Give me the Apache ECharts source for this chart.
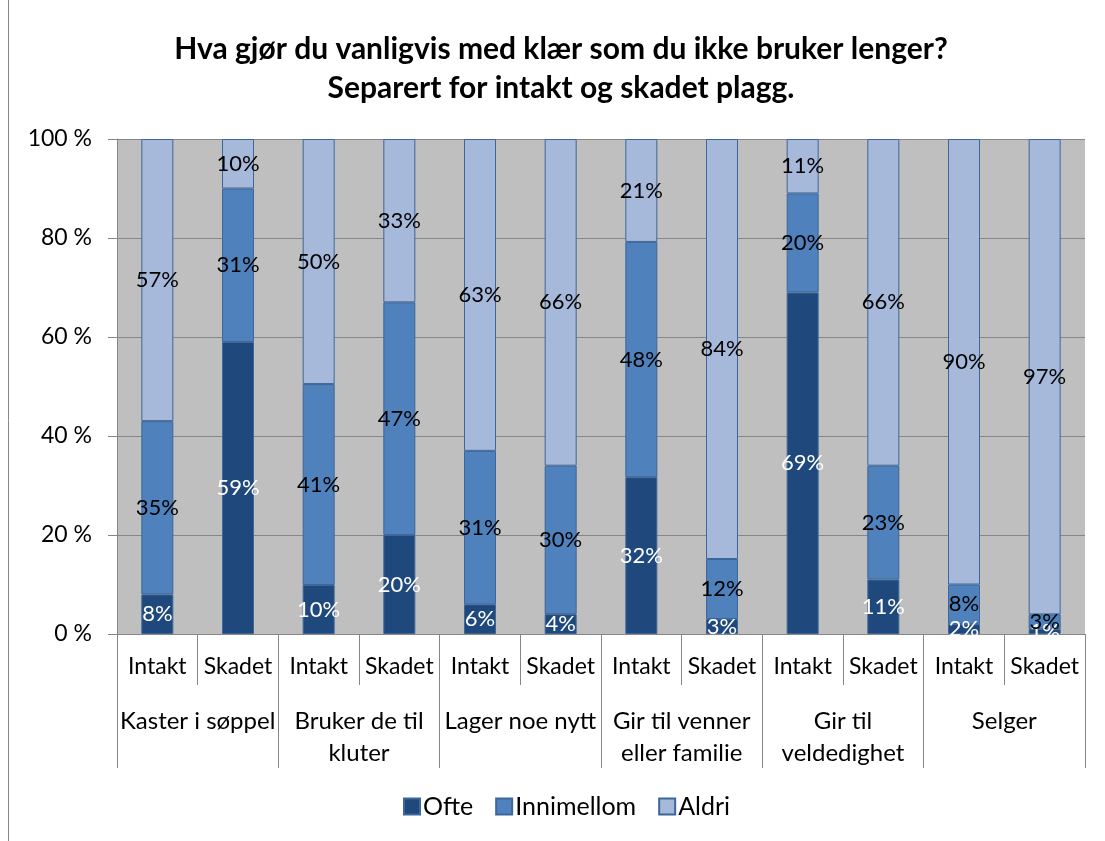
<!DOCTYPE html>
<html>
<head>
<meta charset="utf-8">
<script src="https://cdn.jsdelivr.net/npm/echarts@6/dist/echarts.min.js"></script>
<style>
  html, body { margin: 0; padding: 0; background: #ffffff; }
  #chart { width: 1105px; height: 841px; }
</style>
</head>
<body>
<div id="chart"></div>
<script>
// Survey answers, percent per bar (Intakt / Skadet for each action)
const groups = ['Kaster i søppel', 'Bruker de til\nkluter', 'Lager noe nytt', 'Gir til venner\neller familie', 'Gir til\nveldedighet', 'Selger'];
const conditions = ['Intakt', 'Skadet', 'Intakt', 'Skadet', 'Intakt', 'Skadet', 'Intakt', 'Skadet', 'Intakt', 'Skadet', 'Intakt', 'Skadet'];
const seriesNames = ['Ofte', 'Innimellom', 'Aldri'];
const ofte       = [8, 59, 10, 20, 6, 4, 32, 3, 69, 11, 2, 1];
const innimellom = [35, 31, 41, 47, 31, 30, 48, 12, 20, 23, 8, 3];
const aldri      = [57, 10, 50, 33, 63, 66, 21, 84, 11, 66, 90, 97];
const yTicks = [0, 20, 40, 60, 80, 100];

const raw = [ofte, innimellom, aldri];
const colors = ['#1F497D', '#4F81BD', '#A7B9DA'];
const labelColors = ['#ffffff', '#000000', '#000000'];
const FONT = 'Lato, "Liberation Sans", Arial, sans-serif';

// 100 % stacking: every bar is scaled to its own total
const totals = conditions.map((_, i) => ofte[i] + innimellom[i] + aldri[i]);

const series = raw.map((vals, s) => ({
  name: seriesNames[s],
  type: 'bar',
  stack: 'total',
  xAxisIndex: 0,
  barWidth: 32,
  itemStyle: { color: colors[s], borderColor: '#3D6699', borderWidth: 1 },
  label: {
    show: true,
    position: 'inside',
    color: labelColors[s],
    fontFamily: FONT,
    fontSize: 22,
    formatter: p => vals[p.dataIndex] + '%'
  },
  data: vals.map((v, i) => v / totals[i] * 100)
}));

const chart = echarts.init(document.getElementById('chart'), null, { renderer: 'canvas' });
chart.setOption({
  animation: false,
  backgroundColor: '#ffffff',
  title: {
    text: 'Hva gjør du vanligvis med klær som du ikke bruker lenger?\nSeparert for intakt og skadet plagg.',
    left: 561,
    textAlign: 'center',
    top: 30,
    padding: 0,
    textStyle: { fontFamily: FONT, fontSize: 30, fontWeight: 'bold', color: '#000000', lineHeight: 39 }
  },
  legend: {
    top: 789,
    left: 398,
    itemWidth: 16,
    itemHeight: 16,
    itemGap: 22,
    icon: 'rect',
    textStyle: { fontFamily: FONT, fontSize: 25, color: '#000000', padding: [0, 0, 0, -2] },
    data: seriesNames
  },
  grid: { left: 117, right: 20, top: 139, bottom: 207, backgroundColor: '#BFBFBF', show: true, borderWidth: 0 },
  xAxis: [
    {
      type: 'category',
      data: conditions,
      position: 'bottom',
      axisLine: { show: true, lineStyle: { color: '#868686' } },
      axisTick: { show: true, length: 51, lineStyle: { color: '#868686' } },
      axisLabel: { interval: 0, margin: 21, fontFamily: FONT, fontSize: 23, color: '#000000' }
    },
    {
      type: 'category',
      data: groups,
      position: 'bottom',
      axisLine: { show: false },
      axisTick: { show: true, length: 134, lineStyle: { color: '#868686' } },
      axisLabel: { interval: 0, margin: 71, fontFamily: FONT, fontSize: 24, lineHeight: 32, color: '#000000' }
    }
  ],
  yAxis: {
    type: 'value',
    min: yTicks[0],
    max: yTicks[yTicks.length - 1],
    interval: 20,
    axisLine: { show: true, lineStyle: { color: '#868686' } },
    axisTick: { show: true, length: 9, lineStyle: { color: '#868686' } },
    splitLine: { show: true, lineStyle: { color: '#868686', width: 1 } },
    axisLabel: { margin: 25, fontFamily: FONT, fontSize: 23, color: '#000000', formatter: '{value} %' }
  },
  graphic: [
    { type: 'line', shape: { x1: 8.5, y1: 0, x2: 8.5, y2: 841 }, style: { stroke: '#868686', lineWidth: 1 } }
  ],
  series: series
});
</script>
</body>
</html>
